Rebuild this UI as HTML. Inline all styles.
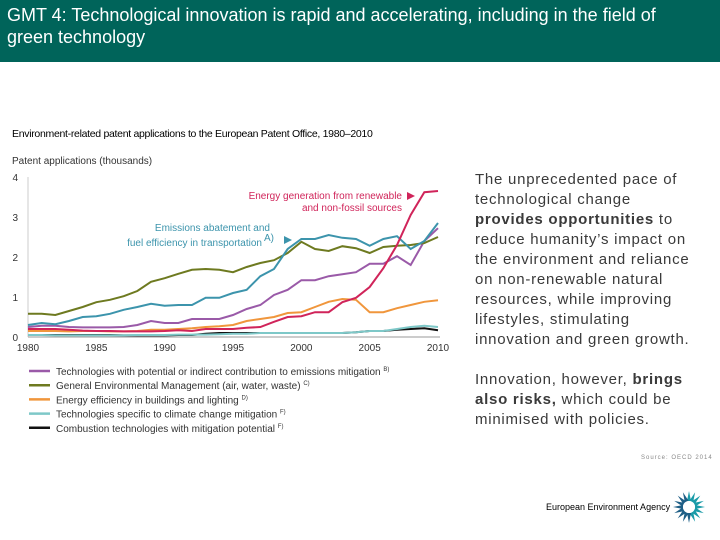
<!DOCTYPE html>
<html><head><meta charset="utf-8"><style>
body{margin:0;width:720px;height:540px;overflow:hidden;background:#fff;font-family:"Liberation Sans",sans-serif;position:relative}
.hdr{position:absolute;left:0;top:0;width:720px;height:62px;background:#00645a;color:#fff;font-size:18px;line-height:22px;padding:4px 0 0 7px;box-sizing:border-box;letter-spacing:0}
.sub{position:absolute;left:12px;top:128px;font-size:10.5px;color:#000;letter-spacing:-0.3px}
.txt{position:absolute;left:475px;top:170px;width:245px;font-size:15px;line-height:20px;color:#3a3a3a;white-space:nowrap;letter-spacing:0.75px}
.src{position:absolute;left:641px;top:455px;font-size:6px;color:#888;letter-spacing:1px}
.eea{position:absolute;left:546px;top:502px;font-size:9px;color:#000}
</style></head><body>
<div class="hdr">GMT 4: Technological innovation is rapid and accelerating, including in the field of<br>green technology</div>
<div class="sub">Environment-related patent applications to the European Patent Office, 1980–2010</div>
<svg id="chart" style="position:absolute;left:0;top:0" width="470" height="450"></svg>
<div class="txt">The unprecedented pace of<br>technological change<br><b>provides opportunities</b> to<br>reduce humanity’s impact on<br>the environment and reliance<br>on non-renewable natural<br>resources, while improving<br>lifestyles, stimulating<br>innovation and green growth.<br><br>Innovation, however, <b>brings</b><br><b>also risks,</b> which could be<br>minimised with policies.</div>
<div class="src">Source: OECD 2014</div>
<div class="eea">European Environment Agency</div>
<svg style="position:absolute;left:672px;top:490px" width="34" height="34" viewBox="-17 -17 34 34">
<g id="petals"></g><circle r="6" fill="#fff"/></svg>
<script>
const years=[];for(let y=1980;y<=2010;y++)years.push(y);
const xTicks=[1980,1985,1990,1995,2000,2005,2010];
const yTicks=[0,1,2,3,4];
const generalEnv=[0.58,0.58,0.55,0.65,0.75,0.87,0.93,1.02,1.15,1.38,1.47,1.58,1.68,1.7,1.68,1.62,1.75,1.85,1.92,2.1,2.38,2.2,2.15,2.27,2.22,2.1,2.25,2.28,2.3,2.35,2.5];
const emissionsTransport=[0.3,0.35,0.32,0.4,0.5,0.52,0.58,0.68,0.75,0.83,0.78,0.8,0.8,0.98,0.98,1.1,1.18,1.52,1.7,2.2,2.45,2.45,2.55,2.48,2.45,2.28,2.45,2.52,2.2,2.4,2.85];
const indirectMitigation=[0.25,0.28,0.28,0.25,0.24,0.24,0.24,0.25,0.3,0.4,0.35,0.35,0.45,0.45,0.45,0.55,0.7,0.8,1.05,1.18,1.42,1.42,1.52,1.57,1.62,1.83,1.83,2.02,1.8,2.4,2.72];
const renewable=[0.2,0.2,0.2,0.18,0.16,0.15,0.15,0.14,0.14,0.14,0.15,0.17,0.15,0.2,0.2,0.2,0.23,0.25,0.38,0.5,0.52,0.62,0.62,0.87,0.98,1.25,1.72,2.3,3.05,3.62,3.65];
const buildings=[0.15,0.15,0.15,0.14,0.15,0.15,0.14,0.14,0.15,0.18,0.18,0.2,0.22,0.25,0.27,0.3,0.4,0.45,0.5,0.6,0.62,0.75,0.88,0.95,0.93,0.62,0.62,0.72,0.8,0.88,0.92];
const climateSpecific=[0.05,0.05,0.04,0.04,0.04,0.04,0.04,0.04,0.05,0.05,0.05,0.06,0.06,0.06,0.07,0.08,0.08,0.1,0.1,0.1,0.1,0.1,0.1,0.1,0.12,0.15,0.15,0.2,0.25,0.28,0.25];
const combustion=[0.05,0.05,0.05,0.05,0.05,0.05,0.05,0.04,0.04,0.04,0.04,0.05,0.05,0.08,0.1,0.1,0.1,0.1,0.1,0.1,0.1,0.1,0.1,0.1,0.12,0.15,0.15,0.18,0.2,0.22,0.17];
const NS='http://www.w3.org/2000/svg',svg=document.getElementById('chart');
const X=y=>28+(y-1980)*(410/30), Y=v=>337-v*40;
function mk(t,a,p){const e=document.createElementNS(NS,t);for(const k in a)e.setAttribute(k,a[k]);(p||svg).appendChild(e);return e;}
let t=mk('text',{x:12,y:164,'font-size':10,fill:'#333'});t.textContent='Patent applications (thousands)';

mk('line',{x1:28,y1:Y(4),x2:28,y2:Y(0),stroke:'#ccc','stroke-width':1});
mk('line',{x1:28,y1:Y(0),x2:440,y2:Y(0),stroke:'#999','stroke-width':1});
yTicks.forEach(v=>{const e=mk('text',{x:18,y:Y(v)+4,'font-size':10,fill:'#333','text-anchor':'end'});e.textContent=v;
});
xTicks.forEach(v=>{const e=mk('text',{x:X(v),y:Y(0)+14,'font-size':10,fill:'#333','text-anchor':'middle'});e.textContent=v;
});
const series=[[combustion,'#111','combustion'],[climateSpecific,'#7ec8c8','climate-specific'],[buildings,'#f0963c','buildings'],[indirectMitigation,'#9a5aa8','indirect-mitigation'],[generalEnv,'#6e7a20','general-env'],[emissionsTransport,'#3c94ac','emissions-transport'],[renewable,'#d0245a','renewable']];
series.forEach(s=>{const p=mk('polyline',{points:s[0].map((v,i)=>X(years[i])+','+Y(v)).join(' '),fill:'none',stroke:s[1],'stroke-width':2});
});
function lab(x,y,txt,c,anch){const e=mk('text',{x:x,y:y,'font-size':10,fill:c,'text-anchor':anch||'end'});e.textContent=txt;}
lab(402,199,'Energy generation from renewable','#d0245a');lab(402,211,'and non-fossil sources','#d0245a');
mk('polygon',{points:'407,192 415,196 407,200',fill:'#d0245a'});
lab(270,231,'Emissions abatement and','#3c94ac');lab(262,246,'fuel efficiency in transportation','#3c94ac');
lab(264,241,'A)','#3c94ac','start');
mk('polygon',{points:'284,236 292,240 284,244',fill:'#3c94ac'});
const legend=[['#9a5aa8','Technologies with potential or indirect contribution to emissions mitigation','B)'],['#6e7a20','General Environmental Management (air, water, waste)','C)'],['#f0963c','Energy efficiency in buildings and lighting','D)'],['#7ec8c8','Technologies specific to climate change mitigation','F)'],['#111','Combustion technologies with mitigation potential','F)']];
legend.forEach((l,i)=>{const g=mk('g',{});
const yy=371+i*14.2;mk('line',{x1:29,y1:yy,x2:50,y2:yy,stroke:l[0],'stroke-width':2.5},g);
const e=mk('text',{x:56,y:yy+4,'font-size':10,fill:'#333'},g);e.textContent=l[1]+' ';const s=mk('tspan',{'font-size':6,dy:-4},e);s.textContent=l[2];});
const pg=document.getElementById('petals');
for(let i=0;i<16;i++){const a=i*22.5,col=i<8?'#1a9ba8':'#1f5f86';const p=mk('path',{d:'M-2,-6 L0,-16 L2,-6 Z',fill:col,transform:'rotate('+a+')'},pg);}
</script>
</body></html>
